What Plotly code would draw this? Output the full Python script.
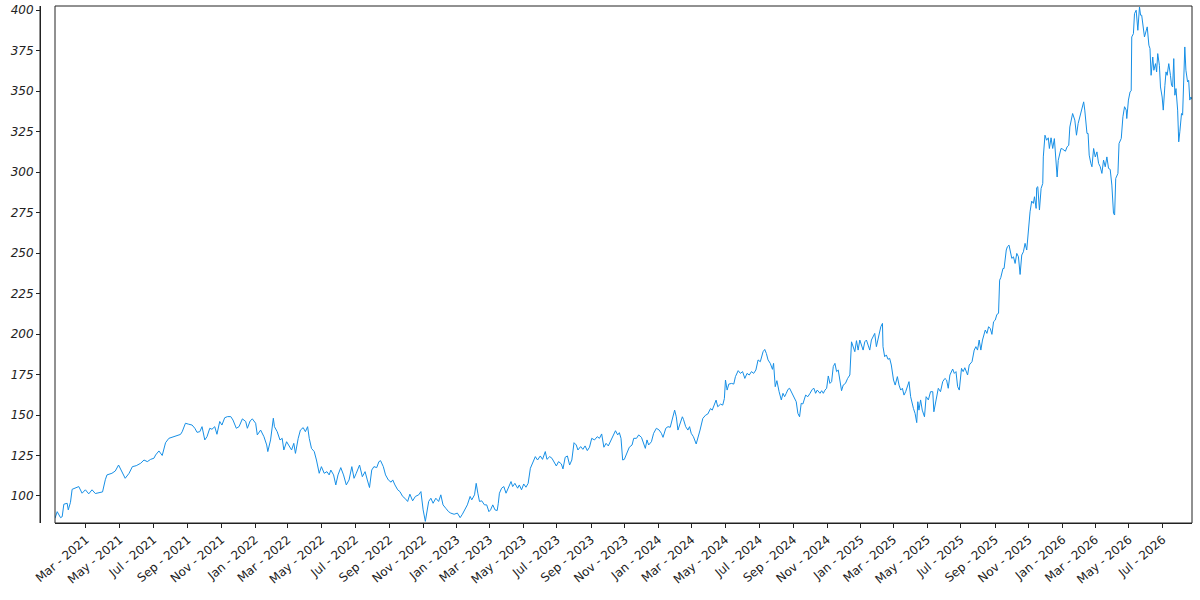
import plotly.graph_objects as go

# Daily close, grouped by year (MM-DD, value)
days_2021 = ["01-04", "01-08", "01-14", "01-17", "01-20", "01-26", "01-28", "02-01", "02-04", "02-10",
             "02-16", "02-22", "02-28", "03-06", "03-12", "03-18", "03-27", "03-31", "04-05", "04-08",
             "04-17", "04-23", "04-29", "05-04", "05-11", "05-18", "05-24", "05-31", "06-08", "06-14",
             "06-20", "06-26", "07-02", "07-05", "07-11", "07-17", "07-23", "07-29", "08-07", "08-19",
             "08-22", "08-28", "09-03", "09-09", "09-14", "09-18", "09-23", "09-27", "10-02", "10-06",
             "10-11", "10-15", "10-20", "10-24", "10-29", "11-02", "11-07", "11-12", "11-18", "11-22",
             "11-28", "12-03", "12-09", "12-15", "12-18", "12-23", "12-27"]
close_2021 = [86.2, 90.3, 86.6, 87.2, 94.9, 95.5, 91.4, 96.1, 104.1, 104.8,
              105.8, 101.7, 103.8, 101.3, 103.8, 101.5, 102.0, 102.5, 110.0, 113.0,
              114.0, 115.4, 119.1, 116.0, 110.9, 114.0, 118.1, 118.7, 120.2, 122.2,
              121.2, 122.6, 123.3, 125.3, 127.8, 125.0, 132.9, 135.6, 136.6, 138.0,
              139.6, 144.9, 144.3, 143.8, 141.8, 139.3, 139.7, 142.8, 134.6, 136.6,
              141.8, 141.2, 142.8, 138.1, 146.0, 143.8, 148.3, 149.0, 149.0, 146.9,
              141.8, 142.8, 147.6, 146.0, 141.8, 146.3, 147.6]

days_2022 = ["01-02", "01-05", "01-11", "01-17", "01-22", "01-24", "01-29", "02-03", "02-05", "02-10",
             "02-15", "02-19", "02-22", "02-27", "03-03", "03-08", "03-12", "03-15", "03-20", "03-24",
             "03-29", "04-02", "04-06", "04-09", "04-13", "04-18", "04-22", "04-27", "05-01", "05-06",
             "05-11", "05-15", "05-18", "05-23", "05-27", "05-31", "06-05", "06-10", "06-15", "06-20",
             "06-25", "06-29", "07-03", "07-09", "07-14", "07-19", "07-23", "07-27", "07-31", "08-04",
             "08-09", "08-13", "08-16", "08-21", "08-25", "08-30", "09-04", "09-07", "09-11", "09-16",
             "09-20", "09-25", "09-29", "10-04", "10-08", "10-13", "10-18", "10-24", "10-28", "10-30",
             "11-01", "11-05", "11-07", "11-11", "11-15", "11-19", "11-24", "11-29", "12-03", "12-07",
             "12-12", "12-17", "12-21", "12-27"]
close_2022 = [144.9, 137.7, 140.7, 136.6, 131.5, 127.4, 134.6, 148.0, 142.8, 139.7,
              134.6, 135.6, 128.4, 133.5, 131.5, 128.4, 132.5, 126.3, 135.6, 140.7,
              142.2, 139.7, 142.8, 135.6, 129.4, 127.4, 122.2, 114.0, 118.1, 114.0,
              115.0, 113.0, 116.0, 113.0, 106.8, 113.0, 117.5, 113.0, 106.8, 109.9,
              118.1, 110.9, 114.0, 119.1, 111.9, 115.0, 109.9, 105.2, 116.0, 118.1,
              117.5, 121.2, 121.8, 118.1, 113.0, 109.9, 108.5, 109.9, 106.8, 103.8,
              102.7, 99.7, 98.6, 96.6, 101.1, 97.0, 99.7, 100.7, 102.7, 95.5,
              91.4, 84.3, 89.4, 96.6, 98.6, 95.5, 98.6, 96.6, 100.7, 94.5,
              92.4, 90.3, 89.4, 88.7]

days_2023 = ["01-02", "01-07", "01-11", "01-16", "01-20", "01-25", "01-28", "02-02", "02-05", "02-08",
             "02-11", "02-15", "02-20", "02-24", "02-28", "03-03", "03-07", "03-11", "03-15", "03-17",
             "03-19", "03-23", "03-27", "03-31", "04-04", "04-09", "04-12", "04-16", "04-21", "04-24",
             "04-28", "05-02", "05-06", "05-10", "05-14", "05-18", "05-23", "05-27", "06-01", "06-05",
             "06-10", "06-13", "06-18", "06-22", "06-27", "06-30", "07-04", "07-09", "07-12", "07-16",
             "07-20", "07-24", "07-28", "08-01", "08-05", "08-08", "08-13", "08-17", "08-21", "08-25",
             "08-29", "09-02", "09-07", "09-12", "09-16", "09-20", "09-24", "09-28", "10-02", "10-07",
             "10-12", "10-15", "10-19", "10-22", "10-25", "10-28", "10-31", "11-05", "11-09", "11-14",
             "11-17", "11-22", "11-26", "12-01", "12-05", "12-08", "12-11", "12-14", "12-19", "12-23",
             "12-28"]
close_2023 = [89.4, 86.6, 88.7, 92.4, 94.5, 99.7, 97.6, 100.7, 107.8, 101.7,
              96.6, 97.0, 94.5, 94.5, 90.3, 91.4, 94.5, 91.4, 91.0, 95.5,
              101.7, 104.8, 105.8, 101.7, 104.8, 108.9, 105.8, 107.8, 104.8, 106.8,
              103.8, 107.4, 105.4, 107.8, 117.1, 120.2, 124.3, 122.2, 124.7, 122.6,
              127.4, 122.6, 124.3, 123.3, 120.2, 118.5, 121.2, 119.8, 116.7, 123.9,
              124.7, 119.1, 122.2, 132.9, 131.5, 128.4, 130.5, 128.8, 130.9, 128.0,
              130.1, 135.6, 134.6, 136.6, 135.6, 138.3, 130.1, 132.5, 130.9, 134.6,
              137.7, 140.3, 137.7, 139.1, 135.6, 122.2, 122.6, 126.3, 130.1, 131.5,
              135.6, 135.6, 137.7, 136.2, 132.5, 129.4, 134.6, 131.5, 133.5, 138.7,
              141.8]

days_2024 = ["01-02", "01-06", "01-09", "01-14", "01-18", "01-22", "01-26", "01-30", "02-02", "02-05",
             "02-08", "02-13", "02-15", "02-19", "02-23", "02-26", "02-29", "03-04", "03-09", "03-12",
             "03-16", "03-21", "03-26", "03-30", "04-04", "04-07", "04-11", "04-14", "04-17", "04-22",
             "04-26", "04-29", "05-01", "05-04", "05-07", "05-12", "05-16", "05-19", "05-24", "05-28",
             "06-01", "06-05", "06-09", "06-13", "06-17", "06-21", "06-25", "06-29", "07-03", "07-08",
             "07-11", "07-14", "07-17", "07-21", "07-25", "07-27", "07-30", "08-02", "08-06", "08-10",
             "08-13", "08-16", "08-19", "08-22", "08-25", "08-28", "08-31", "09-03", "09-06", "09-09",
             "09-12", "09-15", "09-18", "09-23", "09-27", "10-01", "10-05", "10-08", "10-11", "10-14",
             "10-19", "10-22", "10-25", "10-28", "10-31", "11-03", "11-06", "11-09", "11-12", "11-15",
             "11-18", "11-21", "11-24", "11-27", "11-30", "12-04", "12-08", "12-12", "12-15", "12-18",
             "12-21", "12-24", "12-27", "12-30"]
close_2024 = [140.7, 138.7, 136.2, 141.8, 142.8, 142.4, 147.9, 153.0, 148.9, 140.7,
              143.8, 148.9, 147.3, 142.8, 140.7, 142.8, 138.7, 136.6, 132.1, 135.6,
              140.7, 147.9, 149.9, 150.6, 154.0, 153.0, 156.1, 159.2, 155.1, 156.7,
              156.1, 160.2, 171.6, 165.4, 169.1, 169.5, 169.1, 173.7, 177.4, 175.7,
              176.8, 172.6, 175.7, 174.7, 176.8, 175.7, 177.8, 184.0, 182.9, 189.1,
              190.5, 188.0, 184.0, 181.9, 178.2, 181.9, 167.5, 171.2, 164.4, 159.3,
              163.4, 161.3, 163.4, 165.8, 166.5, 164.4, 162.3, 160.9, 158.2, 151.0,
              148.9, 157.2, 156.8, 162.3, 161.3, 163.4, 165.8, 166.5, 163.4, 165.4,
              163.4, 165.0, 163.4, 165.4, 166.5, 174.1, 169.5, 170.6, 179.9, 181.9,
              176.8, 177.8, 171.6, 165.0, 168.5, 169.5, 172.6, 174.7, 195.2, 192.2,
              189.1, 195.9, 190.1, 196.3]

days_2025 = ["01-02", "01-05", "01-08", "01-11", "01-14", "01-17", "01-20", "01-23", "01-26", "01-29",
             "02-03", "02-06", "02-09", "02-10", "02-13", "02-16", "02-19", "02-22", "02-25", "03-01",
             "03-04", "03-08", "03-11", "03-14", "03-17", "03-20", "03-23", "03-26", "03-29", "04-01",
             "04-04", "04-06", "04-09", "04-12", "04-14", "04-16", "04-19", "04-22", "04-26", "04-29",
             "05-03", "05-07", "05-11", "05-13", "05-17", "05-21", "05-25", "05-29", "06-02", "06-05",
             "06-08", "06-11", "06-16", "06-19", "06-22", "06-25", "06-28", "07-02", "07-05", "07-08",
             "07-13", "07-16", "07-21", "07-25", "07-28", "07-31", "08-03", "08-06", "08-09", "08-14",
             "08-17", "08-20", "08-23", "08-26", "08-29", "09-01", "09-04", "09-07", "09-09", "09-11",
             "09-15", "09-17", "09-21", "09-23", "09-26", "09-28", "10-01", "10-04", "10-07", "10-10",
             "10-13", "10-16", "10-19", "10-22", "10-25", "10-28", "10-31", "11-03", "11-06", "11-09",
             "11-11", "11-14", "11-15", "11-17", "11-20", "11-23", "11-26", "11-27", "11-30", "12-03",
             "12-06", "12-08", "12-11", "12-14", "12-17", "12-20", "12-22", "12-24", "12-26", "12-29"]
close_2025 = [193.2, 190.1, 195.2, 196.3, 193.2, 190.1, 196.3, 198.3, 200.4, 192.2,
              201.4, 204.5, 206.6, 192.2, 186.0, 187.1, 184.4, 185.0, 180.9, 171.6,
              168.5, 173.7, 168.5, 165.4, 166.5, 162.3, 164.4, 167.5, 170.6, 161.3,
              155.6, 154.1, 151.0, 145.3, 158.2, 153.0, 159.3, 153.0, 148.9, 161.3,
              159.3, 164.4, 164.4, 152.0, 159.3, 166.5, 164.4, 170.6, 172.6, 171.6,
              166.5, 174.7, 178.4, 175.7, 176.8, 167.5, 165.4, 178.8, 176.8, 179.2,
              174.7, 180.9, 182.9, 190.1, 192.2, 190.1, 196.3, 190.1, 196.3, 202.5,
              200.4, 204.5, 203.5, 199.8, 207.6, 208.6, 212.1, 212.8, 233.3, 234.8,
              240.5, 240.5, 251.9, 253.9, 254.9, 250.8, 246.7, 247.7, 243.6, 249.8,
              247.7, 236.8, 248.8, 250.8, 256.0, 251.9, 265.2, 275.5, 282.1, 280.7,
              284.8, 277.6, 290.4, 291.0, 276.6, 289.9, 293.0, 309.4, 322.8, 319.7,
              321.2, 314.6, 321.2, 314.6, 320.7, 309.4, 297.0, 307.3, 310.0, 314.6]

days_2026 = ["01-01", "01-06", "01-09", "01-12", "01-14", "01-19", "01-23", "01-26", "01-29", "01-31",
             "02-04", "02-08", "02-10", "02-12", "02-14", "02-16", "02-18", "02-21", "02-23", "02-26",
             "03-01", "03-04", "03-07", "03-10", "03-13", "03-16", "03-19", "03-22", "03-25", "03-28",
             "03-31", "04-03", "04-05", "04-07", "04-11", "04-13", "04-17", "04-20", "04-23", "04-26",
             "04-27", "04-30", "05-03", "05-05", "05-06", "05-09", "05-11", "05-14", "05-15", "05-17",
             "05-20", "05-22", "05-24", "05-27", "05-29", "06-01", "06-03", "06-06", "06-08", "06-10",
             "06-13", "06-15", "06-18", "06-20", "06-22", "06-25", "06-27", "06-30", "07-02", "07-05",
             "07-07", "07-09", "07-12", "07-15", "07-17", "07-19", "07-21", "07-23", "07-25", "07-28",
             "07-30", "08-01", "08-04", "08-06", "08-08", "08-10", "08-12", "08-15", "08-17", "08-19",
             "08-21", "08-23"]
close_2026 = [314.2, 312.9, 315.6, 316.6, 327.9, 336.2, 332.1, 322.8, 330.0, 333.1,
              338.3, 343.4, 338.3, 332.1, 323.9, 323.9, 310.5, 305.4, 303.3, 314.6,
              309.4, 312.5, 305.4, 303.3, 299.2, 307.4, 303.3, 309.4, 302.3, 301.7,
              292.0, 274.5, 273.5, 296.1, 299.2, 317.7, 320.8, 334.2, 340.4, 338.3,
              333.1, 344.5, 349.6, 350.2, 383.5, 385.5, 397.9, 400.0, 394.9, 387.6,
              402.0, 396.9, 396.9, 386.6, 383.5, 387.2, 389.7, 378.4, 376.3, 359.8,
              371.1, 362.9, 367.0, 361.9, 373.2, 366.0, 352.6, 346.4, 338.3, 353.6,
              361.9, 359.8, 367.0, 359.8, 353.6, 352.6, 370.1, 347.5, 351.6, 338.3,
              318.7, 324.9, 336.2, 335.2, 360.9, 377.3, 362.9, 355.7, 356.7, 344.5,
              346.4, 345.0]

yearly = [(2021, days_2021, close_2021), (2022, days_2022, close_2022),
          (2023, days_2023, close_2023), (2024, days_2024, close_2024),
          (2025, days_2025, close_2025), (2026, days_2026, close_2026)]

dates = []
close = []
for year, days, vals in yearly:
    dates += [f"{year}-{d}" for d in days]
    close += vals

y_ticks = [100, 125, 150, 175, 200, 225, 250, 275, 300, 325, 350, 375, 400]

fig = go.Figure()

fig.add_trace(go.Scatter(
    x=dates,
    y=close,
    mode='lines',
    line=dict(color='#168fe6', width=1),
    showlegend=False
))

# frame around the plotting area
fig.add_shape(
    type="rect", xref="x domain", yref="y domain",
    x0=0, x1=1, y0=0, y1=1,
    line=dict(color='#222222', width=1)
)
# left spine, pushed out from the frame
fig.add_shape(
    type="line", xref="paper", yref="y domain",
    x0=0, x1=0, y0=0, y1=1,
    line=dict(color='#222222', width=1)
)

fig.update_layout(
    width=1200,
    height=600,
    margin=dict(l=40, r=8, t=6, b=77, autoexpand=False),
    plot_bgcolor='white',
    paper_bgcolor='white',
    font=dict(family='DejaVu Sans', color='#222222'),
    showlegend=False,
    xaxis=dict(
        domain=[15 / 1152, 1],
        type='date',
        range=[dates[0], dates[-1]],
        tick0='2021-03-01',
        dtick='M2',
        tickformat='%b - %Y',
        tickangle=-40,
        ticks='outside',
        ticklen=4,
        tickcolor='#222222',
        tickfont=dict(size=12),
        showgrid=False,
        zeroline=False,
        showline=True,
        linecolor='#222222',
        automargin=False,
    ),
    yaxis=dict(
        anchor='free',
        position=0,
        range=[83.3, 402.6],
        tickvals=y_ticks,
        ticks='outside',
        ticklen=4,
        tickcolor='#222222',
        tickfont=dict(size=12, style='italic'),
        showgrid=False,
        zeroline=False,
        showline=True,
        linecolor='#222222',
        automargin=False,
    ),
)

fig.write_html("out.html", config={"displayModeBar": False},
               post_script="document.body.style.margin='0';")
